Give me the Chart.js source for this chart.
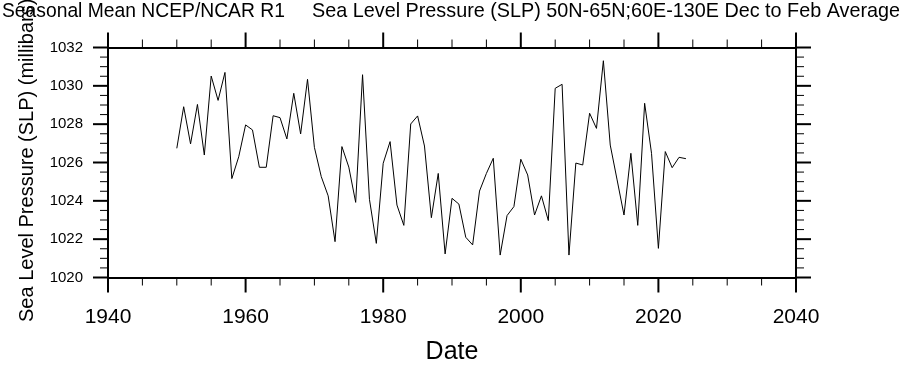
<!DOCTYPE html>
<html>
<head>
<meta charset="utf-8">
<script src="https://cdn.jsdelivr.net/npm/chart.js@4.4.1/dist/chart.umd.min.js"></script>
<style>
  body { margin: 0; background: #fff; }
  canvas { display: block; }
</style>
</head>
<body>
<canvas id="myChart" width="904" height="368"></canvas>
<script>
const years = [
  1950, 1951, 1952, 1953, 1954, 1955, 1956, 1957, 1958, 1959,
  1960, 1961, 1962, 1963, 1964, 1965, 1966, 1967, 1968, 1969,
  1970, 1971, 1972, 1973, 1974, 1975, 1976, 1977, 1978, 1979,
  1980, 1981, 1982, 1983, 1984, 1985, 1986, 1987, 1988, 1989,
  1990, 1991, 1992, 1993, 1994, 1995, 1996, 1997, 1998, 1999,
  2000, 2001, 2002, 2003, 2004, 2005, 2006, 2007, 2008, 2009,
  2010, 2011, 2012, 2013, 2014, 2015, 2016, 2017, 2018, 2019,
  2020, 2021, 2022, 2023, 2024
];

const slp = [
  1026.74, 1028.91, 1026.97, 1029.03, 1026.39, 1030.51, 1029.24, 1030.70, 1025.16, 1026.30,
  1027.96, 1027.70, 1025.75, 1025.75, 1028.44, 1028.34, 1027.23, 1029.61, 1027.49, 1030.34,
  1026.79, 1025.26, 1024.26, 1021.87, 1026.83, 1025.76, 1023.92, 1030.58, 1024.08, 1021.78,
  1025.96, 1027.09, 1023.78, 1022.72, 1028.01, 1028.43, 1026.86, 1023.12, 1025.43, 1021.23,
  1024.13, 1023.83, 1022.10, 1021.70, 1024.51, 1025.43, 1026.22, 1021.17, 1023.23, 1023.70,
  1026.17, 1025.35, 1023.26, 1024.26, 1022.97, 1029.87, 1030.08, 1021.17, 1025.97, 1025.87,
  1028.57, 1027.78, 1031.31, 1026.91, 1025.09, 1023.26, 1026.48, 1022.72, 1029.09, 1026.48,
  1021.52, 1026.57, 1025.73, 1026.27, 1026.20
];

const xTicks = [1940, 1960, 1980, 2000, 2020, 2040];
const xTickLabels = ["1940", "1960", "1980", "2000", "2020", "2040"];
const yTicks = [1020, 1022, 1024, 1026, 1028, 1030, 1032];
const yTickLabels = ["1020", "1022", "1024", "1026", "1028", "1030", "1032"];

const leftTitle = "Seasonal Mean NCEP/NCAR R1";
const rightTitle = "Sea Level Pressure (SLP) 50N-65N;60E-130E Dec to Feb Average";
const xTitle = "Date";
const yTitle = "Sea Level Pressure (SLP) (millibars)";

const fontName = '"Liberation Sans", Arial, Helvetica, sans-serif';

function line(ctx, x1, y1, x2, y2) {
  ctx.beginPath();
  ctx.moveTo(x1, y1);
  ctx.lineTo(x2, y2);
  ctx.stroke();
}

// outward major/minor tick marks on all four sides, like the NCL plot
const tickMarks = {
  id: "tickMarks",
  afterDraw(chart) {
    const ctx = chart.ctx;
    const area = chart.chartArea;
    const x = chart.scales.x;
    const y = chart.scales.y;
    ctx.save();
    ctx.strokeStyle = "#000";
    for (let v = x.min; v <= x.max; v += 5) {
      const px = x.getPixelForValue(v);
      const major = v % 20 === 0;
      const len = major ? 15 : 8;
      ctx.lineWidth = major ? 2 : 1;
      line(ctx, px, area.top, px, area.top - len);
      line(ctx, px, area.bottom, px, area.bottom + len);
    }
    for (let v = y.min; v <= y.max; v += 0.5) {
      const py = y.getPixelForValue(v);
      const major = v % 2 === 0;
      const len = major ? 15 : 8;
      ctx.lineWidth = major ? 2 : 1;
      line(ctx, area.left, py, area.left - len, py);
      line(ctx, area.right, py, area.right + len, py);
    }
    ctx.restore();
  }
};

const titles = {
  id: "titles",
  afterDraw(chart) {
    const ctx = chart.ctx;
    ctx.save();
    ctx.fillStyle = "#000";
    ctx.textBaseline = "alphabetic";
    ctx.font = "19.3px " + fontName;
    ctx.textAlign = "left";
    ctx.fillText(leftTitle, 2, 17);
    ctx.font = "19.8px " + fontName;
    ctx.textAlign = "right";
    ctx.fillText(rightTitle, 900, 17);

    ctx.translate(33, 322);
    ctx.rotate(-Math.PI / 2);
    ctx.font = "20px " + fontName;
    ctx.textAlign = "left";
    ctx.fillText(yTitle, 0, 0);
    ctx.restore();
  }
};

function creatChart() {
  const points = years.map((yr, i) => ({ x: yr, y: slp[i] }));

  const data = {
    datasets: [
      {
        label: "SLP",
        data: points,
        borderColor: "#000",
        borderWidth: 1,
        pointRadius: 0,
        tension: 0,
        fill: false,
      },
    ],
  };

  const border = { display: true, color: "#000", width: 2 };

  const config = {
    type: "line",
    data: data,
    plugins: [tickMarks, titles],
    options: {
      responsive: false,
      animation: false,
      devicePixelRatio: 1,
      layout: { padding: 0 },
      plugins: {
        legend: { display: false },
        tooltip: { enabled: false },
      },
      scales: {
        x: {
          type: "linear",
          position: "bottom",
          min: 1940,
          max: 2040,
          grid: { display: false, drawTicks: false },
          border: border,
          afterBuildTicks: (s) => { s.ticks = xTicks.map((v) => ({ value: v })); },
          afterFit: (s) => { s.height = 90.5; },
          ticks: {
            padding: 27.4,
            color: "#000",
            maxRotation: 0,
            autoSkip: false,
            font: { family: fontName, size: 21 },
            callback: (v) => xTickLabels[xTicks.indexOf(v)],
          },
          title: {
            display: true,
            text: xTitle,
            color: "#000",
            padding: { top: 0, bottom: 0.5 },
            font: { family: fontName, size: 25 },
          },
        },
        x2: {
          type: "linear",
          position: "top",
          min: 1940,
          max: 2040,
          grid: { display: false, drawTicks: false },
          border: border,
          ticks: { display: false },
          afterFit: (s) => { s.height = 47.5; },
        },
        y: {
          type: "linear",
          position: "left",
          min: 1020,
          max: 1032,
          grid: { display: false, drawTicks: false },
          border: border,
          afterBuildTicks: (s) => { s.ticks = yTicks.map((v) => ({ value: v })); },
          afterFit: (s) => { s.width = 108; },
          ticks: {
            padding: 25,
            color: "#000",
            autoSkip: false,
            font: { family: fontName, size: 15 },
            callback: (v) => yTickLabels[yTicks.indexOf(v)],
          },
        },
        y2: {
          type: "linear",
          position: "right",
          min: 1020,
          max: 1032,
          grid: { display: false, drawTicks: false },
          border: border,
          ticks: { display: false },
          afterFit: (s) => { s.width = 108; },
        },
      },
    },
  };

  const myChart = new Chart(document.getElementById("myChart"), config);
}

creatChart();
</script>
</body>
</html>
